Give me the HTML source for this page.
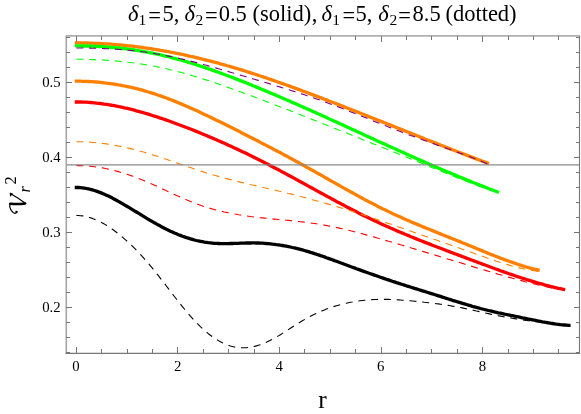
<!DOCTYPE html>
<html><head><meta charset="utf-8"><title>plot</title>
<style>html,body{margin:0;padding:0;background:#fff;}body{width:581px;height:414px;overflow:hidden;}svg{display:block;will-change:transform;transform:translateZ(0);}text{font-family:"Liberation Serif",serif;fill:#000;}</style></head><body>
<svg width="581" height="414" viewBox="0 0 581 414">
<rect x="0" y="0" width="581" height="414" fill="#ffffff"/>
<g fill="none" stroke-linejoin="round" stroke-linecap="butt">
<path d="M76.4 187.5 L78.4 187.5 L80.4 187.6 L82.4 187.8 L84.4 188.1 L86.4 188.5 L88.4 188.9 L90.4 189.3 L92.4 189.9 L94.4 190.5 L96.4 191.1 L98.4 191.9 L100.4 192.6 L102.4 193.4 L104.4 194.3 L106.4 195.2 L108.4 196.1 L110.4 197.1 L112.4 198.1 L114.4 199.2 L116.4 200.3 L118.4 201.4 L120.4 202.5 L122.4 203.6 L124.4 204.8 L126.4 206.0 L128.4 207.2 L130.4 208.4 L132.4 209.6 L134.4 210.8 L136.4 212.0 L138.4 213.2 L140.4 214.4 L142.4 215.7 L144.4 216.9 L146.4 218.1 L148.4 219.3 L150.4 220.5 L152.4 221.6 L154.4 222.8 L156.4 223.9 L158.4 225.1 L160.4 226.1 L162.4 227.2 L164.4 228.3 L166.4 229.3 L168.4 230.2 L170.4 231.2 L172.4 232.1 L174.4 233.0 L176.4 233.8 L178.4 234.7 L180.4 235.4 L182.4 236.2 L184.4 236.9 L186.4 237.6 L188.4 238.2 L190.4 238.8 L192.4 239.4 L194.4 240.0 L196.4 240.5 L198.4 240.9 L200.4 241.3 L202.4 241.7 L204.4 242.1 L206.4 242.4 L208.4 242.7 L210.4 242.9 L212.4 243.1 L214.4 243.3 L216.4 243.4 L218.4 243.5 L220.4 243.6 L222.4 243.6 L224.4 243.6 L226.4 243.6 L228.4 243.6 L230.4 243.5 L232.4 243.5 L234.4 243.4 L236.4 243.4 L238.4 243.3 L240.4 243.2 L242.4 243.1 L244.4 243.1 L246.4 243.0 L248.4 243.0 L250.4 243.0 L252.4 242.9 L254.4 242.9 L256.4 243.0 L258.4 243.0 L260.4 243.1 L262.4 243.2 L264.4 243.3 L266.4 243.5 L268.4 243.6 L270.4 243.8 L272.4 244.1 L274.4 244.3 L276.4 244.6 L278.4 244.8 L280.4 245.2 L282.4 245.5 L284.4 245.8 L286.4 246.2 L288.4 246.6 L290.4 247.0 L292.4 247.5 L294.4 247.9 L296.4 248.4 L298.4 248.9 L300.4 249.4 L302.4 249.9 L304.4 250.5 L306.4 251.1 L308.4 251.7 L310.4 252.3 L312.4 252.9 L314.4 253.6 L316.4 254.2 L318.4 254.9 L320.4 255.6 L322.4 256.2 L324.4 256.9 L326.4 257.7 L328.4 258.4 L330.4 259.1 L332.4 259.8 L334.4 260.6 L336.4 261.3 L338.4 262.0 L340.4 262.8 L342.4 263.5 L344.4 264.3 L346.4 265.0 L348.4 265.7 L350.4 266.5 L352.4 267.2 L354.4 267.9 L356.4 268.7 L358.4 269.4 L360.4 270.1 L362.4 270.9 L364.4 271.6 L366.4 272.3 L368.4 273.0 L370.4 273.7 L372.4 274.4 L374.4 275.1 L376.4 275.8 L378.4 276.5 L380.4 277.2 L382.4 277.9 L384.4 278.6 L386.4 279.3 L388.4 279.9 L390.4 280.6 L392.4 281.3 L394.4 281.9 L396.4 282.6 L398.4 283.2 L400.4 283.9 L402.4 284.5 L404.4 285.1 L406.4 285.8 L408.4 286.4 L410.4 287.0 L412.4 287.7 L414.4 288.3 L416.4 288.9 L418.4 289.5 L420.4 290.2 L422.4 290.8 L424.4 291.4 L426.4 292.0 L428.4 292.7 L430.4 293.3 L432.4 293.9 L434.4 294.5 L436.4 295.2 L438.4 295.8 L440.4 296.4 L442.4 297.1 L444.4 297.7 L446.4 298.4 L448.4 299.0 L450.4 299.6 L452.4 300.3 L454.4 300.9 L456.4 301.5 L458.4 302.1 L460.4 302.7 L462.4 303.3 L464.4 303.9 L466.4 304.5 L468.4 305.1 L470.4 305.7 L472.4 306.3 L474.4 306.8 L476.4 307.4 L478.4 307.9 L480.4 308.5 L482.4 309.0 L484.4 309.5 L486.4 310.0 L488.4 310.5 L490.4 310.9 L492.4 311.4 L494.4 311.9 L496.4 312.3 L498.4 312.8 L500.4 313.2 L502.4 313.6 L504.4 314.1 L506.4 314.5 L508.4 314.9 L510.4 315.3 L512.4 315.7 L514.4 316.1 L516.4 316.5 L518.4 316.9 L520.4 317.3 L522.4 317.8 L524.4 318.2 L526.4 318.6 L528.4 319.0 L530.4 319.4 L532.4 319.8 L534.4 320.2 L536.4 320.6 L538.4 321.0 L540.4 321.4 L542.4 321.8 L544.4 322.1 L546.4 322.5 L548.4 322.8 L550.4 323.2 L552.4 323.5 L554.4 323.8 L556.4 324.1 L558.4 324.3 L560.4 324.6 L562.4 324.8 L564.4 325.0 L566.4 325.2 L568.4 325.4 L568.9 325.4" stroke="#000000" stroke-width="3.3" stroke-linecap="square"/>
<path d="M76.4 102.0 L78.4 102.0 L80.4 102.0 L82.4 102.1 L84.4 102.2 L86.4 102.2 L88.4 102.4 L90.4 102.5 L92.4 102.7 L94.4 102.9 L96.4 103.1 L98.4 103.3 L100.4 103.5 L102.4 103.8 L104.4 104.1 L106.4 104.3 L108.4 104.7 L110.4 105.0 L112.4 105.3 L114.4 105.7 L116.4 106.1 L118.4 106.5 L120.4 106.9 L122.4 107.3 L124.4 107.8 L126.4 108.2 L128.4 108.7 L130.4 109.2 L132.4 109.7 L134.4 110.2 L136.4 110.8 L138.4 111.3 L140.4 111.9 L142.4 112.4 L144.4 113.0 L146.4 113.6 L148.4 114.2 L150.4 114.8 L152.4 115.5 L154.4 116.1 L156.4 116.7 L158.4 117.4 L160.4 118.1 L162.4 118.7 L164.4 119.4 L166.4 120.1 L168.4 120.8 L170.4 121.5 L172.4 122.3 L174.4 123.0 L176.4 123.7 L178.4 124.5 L180.4 125.2 L182.4 126.0 L184.4 126.7 L186.4 127.5 L188.4 128.3 L190.4 129.0 L192.4 129.8 L194.4 130.6 L196.4 131.4 L198.4 132.2 L200.4 133.0 L202.4 133.9 L204.4 134.7 L206.4 135.5 L208.4 136.4 L210.4 137.2 L212.4 138.1 L214.4 138.9 L216.4 139.8 L218.4 140.7 L220.4 141.6 L222.4 142.4 L224.4 143.3 L226.4 144.2 L228.4 145.2 L230.4 146.1 L232.4 147.0 L234.4 147.9 L236.4 148.8 L238.4 149.8 L240.4 150.7 L242.4 151.7 L244.4 152.6 L246.4 153.6 L248.4 154.6 L250.4 155.5 L252.4 156.5 L254.4 157.5 L256.4 158.5 L258.4 159.5 L260.4 160.5 L262.4 161.5 L264.4 162.5 L266.4 163.6 L268.4 164.6 L270.4 165.6 L272.4 166.7 L274.4 167.7 L276.4 168.8 L278.4 169.8 L280.4 170.9 L282.4 172.0 L284.4 173.0 L286.4 174.1 L288.4 175.2 L290.4 176.3 L292.4 177.3 L294.4 178.4 L296.4 179.5 L298.4 180.6 L300.4 181.7 L302.4 182.8 L304.4 183.9 L306.4 185.0 L308.4 186.1 L310.4 187.2 L312.4 188.3 L314.4 189.4 L316.4 190.5 L318.4 191.6 L320.4 192.7 L322.4 193.8 L324.4 194.9 L326.4 196.0 L328.4 197.1 L330.4 198.1 L332.4 199.2 L334.4 200.3 L336.4 201.4 L338.4 202.4 L340.4 203.5 L342.4 204.6 L344.4 205.6 L346.4 206.7 L348.4 207.7 L350.4 208.8 L352.4 209.8 L354.4 210.8 L356.4 211.8 L358.4 212.9 L360.4 213.9 L362.4 214.9 L364.4 215.9 L366.4 216.8 L368.4 217.8 L370.4 218.8 L372.4 219.7 L374.4 220.7 L376.4 221.6 L378.4 222.6 L380.4 223.5 L382.4 224.4 L384.4 225.3 L386.4 226.2 L388.4 227.1 L390.4 228.0 L392.4 228.8 L394.4 229.7 L396.4 230.6 L398.4 231.4 L400.4 232.3 L402.4 233.1 L404.4 234.0 L406.4 234.8 L408.4 235.6 L410.4 236.5 L412.4 237.3 L414.4 238.1 L416.4 238.9 L418.4 239.7 L420.4 240.5 L422.4 241.3 L424.4 242.1 L426.4 242.9 L428.4 243.6 L430.4 244.4 L432.4 245.2 L434.4 246.0 L436.4 246.7 L438.4 247.5 L440.4 248.3 L442.4 249.0 L444.4 249.8 L446.4 250.6 L448.4 251.3 L450.4 252.1 L452.4 252.8 L454.4 253.6 L456.4 254.3 L458.4 255.1 L460.4 255.8 L462.4 256.6 L464.4 257.3 L466.4 258.1 L468.4 258.8 L470.4 259.6 L472.4 260.3 L474.4 261.1 L476.4 261.8 L478.4 262.6 L480.4 263.3 L482.4 264.1 L484.4 264.8 L486.4 265.5 L488.4 266.3 L490.4 267.0 L492.4 267.8 L494.4 268.5 L496.4 269.2 L498.4 269.9 L500.4 270.7 L502.4 271.4 L504.4 272.1 L506.4 272.8 L508.4 273.5 L510.4 274.2 L512.4 274.8 L514.4 275.5 L516.4 276.2 L518.4 276.9 L520.4 277.5 L522.4 278.2 L524.4 278.8 L526.4 279.5 L528.4 280.1 L530.4 280.7 L532.4 281.3 L534.4 281.9 L536.4 282.5 L538.4 283.1 L540.4 283.6 L542.4 284.2 L544.4 284.8 L546.4 285.3 L548.4 285.8 L550.4 286.3 L552.4 286.8 L554.4 287.3 L556.4 287.8 L558.4 288.3 L560.4 288.7 L562.4 289.2 L563.6 289.4" stroke="#ff0000" stroke-width="3.3" stroke-linecap="square"/>
<path d="M76.4 81.2 L78.4 81.2 L80.4 81.2 L82.4 81.3 L84.4 81.3 L86.4 81.4 L88.4 81.5 L90.4 81.6 L92.4 81.7 L94.4 81.9 L96.4 82.0 L98.4 82.2 L100.4 82.4 L102.4 82.6 L104.4 82.8 L106.4 83.1 L108.4 83.3 L110.4 83.6 L112.4 83.9 L114.4 84.2 L116.4 84.5 L118.4 84.9 L120.4 85.2 L122.4 85.6 L124.4 86.0 L126.4 86.4 L128.4 86.8 L130.4 87.2 L132.4 87.7 L134.4 88.2 L136.4 88.7 L138.4 89.2 L140.4 89.7 L142.4 90.2 L144.4 90.8 L146.4 91.4 L148.4 92.0 L150.4 92.6 L152.4 93.2 L154.4 93.8 L156.4 94.5 L158.4 95.2 L160.4 95.9 L162.4 96.6 L164.4 97.3 L166.4 98.0 L168.4 98.8 L170.4 99.6 L172.4 100.3 L174.4 101.1 L176.4 101.9 L178.4 102.8 L180.4 103.6 L182.4 104.4 L184.4 105.3 L186.4 106.2 L188.4 107.0 L190.4 107.9 L192.4 108.8 L194.4 109.7 L196.4 110.6 L198.4 111.5 L200.4 112.5 L202.4 113.4 L204.4 114.4 L206.4 115.3 L208.4 116.3 L210.4 117.2 L212.4 118.2 L214.4 119.2 L216.4 120.2 L218.4 121.1 L220.4 122.1 L222.4 123.1 L224.4 124.1 L226.4 125.1 L228.4 126.1 L230.4 127.1 L232.4 128.1 L234.4 129.1 L236.4 130.1 L238.4 131.1 L240.4 132.1 L242.4 133.2 L244.4 134.2 L246.4 135.2 L248.4 136.2 L250.4 137.2 L252.4 138.3 L254.4 139.3 L256.4 140.3 L258.4 141.3 L260.4 142.4 L262.4 143.4 L264.4 144.4 L266.4 145.5 L268.4 146.5 L270.4 147.6 L272.4 148.6 L274.4 149.7 L276.4 150.7 L278.4 151.8 L280.4 152.8 L282.4 153.9 L284.4 155.0 L286.4 156.0 L288.4 157.1 L290.4 158.2 L292.4 159.3 L294.4 160.4 L296.4 161.5 L298.4 162.5 L300.4 163.6 L302.4 164.7 L304.4 165.8 L306.4 167.0 L308.4 168.1 L310.4 169.2 L312.4 170.3 L314.4 171.4 L316.4 172.6 L318.4 173.7 L320.4 174.8 L322.4 175.9 L324.4 177.1 L326.4 178.2 L328.4 179.3 L330.4 180.5 L332.4 181.6 L334.4 182.7 L336.4 183.9 L338.4 185.0 L340.4 186.1 L342.4 187.3 L344.4 188.4 L346.4 189.5 L348.4 190.6 L350.4 191.7 L352.4 192.8 L354.4 193.9 L356.4 195.0 L358.4 196.1 L360.4 197.2 L362.4 198.3 L364.4 199.4 L366.4 200.4 L368.4 201.5 L370.4 202.6 L372.4 203.6 L374.4 204.6 L376.4 205.6 L378.4 206.7 L380.4 207.7 L382.4 208.7 L384.4 209.6 L386.4 210.6 L388.4 211.6 L390.4 212.5 L392.4 213.5 L394.4 214.4 L396.4 215.3 L398.4 216.2 L400.4 217.1 L402.4 218.0 L404.4 218.9 L406.4 219.8 L408.4 220.6 L410.4 221.5 L412.4 222.4 L414.4 223.2 L416.4 224.1 L418.4 224.9 L420.4 225.7 L422.4 226.6 L424.4 227.4 L426.4 228.2 L428.4 229.0 L430.4 229.8 L432.4 230.6 L434.4 231.4 L436.4 232.2 L438.4 233.1 L440.4 233.9 L442.4 234.7 L444.4 235.5 L446.4 236.3 L448.4 237.1 L450.4 237.9 L452.4 238.7 L454.4 239.5 L456.4 240.3 L458.4 241.1 L460.4 241.9 L462.4 242.7 L464.4 243.5 L466.4 244.3 L468.4 245.2 L470.4 246.0 L472.4 246.8 L474.4 247.6 L476.4 248.5 L478.4 249.3 L480.4 250.1 L482.4 250.9 L484.4 251.7 L486.4 252.5 L488.4 253.4 L490.4 254.2 L492.4 254.9 L494.4 255.7 L496.4 256.5 L498.4 257.3 L500.4 258.1 L502.4 258.8 L504.4 259.6 L506.4 260.3 L508.4 261.0 L510.4 261.7 L512.4 262.4 L514.4 263.1 L516.4 263.8 L518.4 264.5 L520.4 265.1 L522.4 265.8 L524.4 266.4 L526.4 267.0 L528.4 267.6 L530.4 268.1 L532.4 268.7 L534.4 269.2 L536.4 269.7 L538.1 270.1" stroke="#ff8000" stroke-width="3.3" stroke-linecap="square"/>
<path d="M76.4 42.9 L78.4 42.9 L80.4 42.9 L82.4 43.0 L84.4 43.0 L86.4 43.0 L88.4 43.1 L90.4 43.1 L92.4 43.2 L94.4 43.3 L96.4 43.3 L98.4 43.4 L100.4 43.5 L102.4 43.6 L104.4 43.8 L106.4 43.9 L108.4 44.0 L110.4 44.1 L112.4 44.3 L114.4 44.5 L116.4 44.6 L118.4 44.8 L120.4 45.0 L122.4 45.2 L124.4 45.4 L126.4 45.6 L128.4 45.8 L130.4 46.0 L132.4 46.2 L134.4 46.5 L136.4 46.7 L138.4 47.0 L140.4 47.2 L142.4 47.5 L144.4 47.8 L146.4 48.1 L148.4 48.4 L150.4 48.7 L152.4 49.0 L154.4 49.3 L156.4 49.6 L158.4 49.9 L160.4 50.3 L162.4 50.6 L164.4 51.0 L166.4 51.3 L168.4 51.7 L170.4 52.1 L172.4 52.5 L174.4 52.9 L176.4 53.3 L178.4 53.7 L180.4 54.1 L182.4 54.5 L184.4 54.9 L186.4 55.4 L188.4 55.8 L190.4 56.3 L192.4 56.7 L194.4 57.2 L196.4 57.6 L198.4 58.1 L200.4 58.6 L202.4 59.1 L204.4 59.6 L206.4 60.1 L208.4 60.6 L210.4 61.1 L212.4 61.6 L214.4 62.2 L216.4 62.7 L218.4 63.2 L220.4 63.8 L222.4 64.3 L224.4 64.9 L226.4 65.5 L228.4 66.0 L230.4 66.6 L232.4 67.2 L234.4 67.8 L236.4 68.4 L238.4 69.0 L240.4 69.6 L242.4 70.2 L244.4 70.8 L246.4 71.5 L248.4 72.1 L250.4 72.7 L252.4 73.4 L254.4 74.0 L256.4 74.7 L258.4 75.3 L260.4 76.0 L262.4 76.7 L264.4 77.3 L266.4 78.0 L268.4 78.7 L270.4 79.4 L272.4 80.1 L274.4 80.8 L276.4 81.5 L278.4 82.2 L280.4 82.9 L282.4 83.6 L284.4 84.3 L286.4 85.0 L288.4 85.7 L290.4 86.4 L292.4 87.2 L294.4 87.9 L296.4 88.6 L298.4 89.4 L300.4 90.1 L302.4 90.9 L304.4 91.6 L306.4 92.3 L308.4 93.1 L310.4 93.9 L312.4 94.6 L314.4 95.4 L316.4 96.1 L318.4 96.9 L320.4 97.6 L322.4 98.4 L324.4 99.2 L326.4 99.9 L328.4 100.7 L330.4 101.5 L332.4 102.3 L334.4 103.0 L336.4 103.8 L338.4 104.6 L340.4 105.4 L342.4 106.1 L344.4 106.9 L346.4 107.7 L348.4 108.5 L350.4 109.3 L352.4 110.1 L354.4 110.8 L356.4 111.6 L358.4 112.4 L360.4 113.2 L362.4 114.0 L364.4 114.8 L366.4 115.6 L368.4 116.4 L370.4 117.2 L372.4 118.0 L374.4 118.8 L376.4 119.6 L378.4 120.4 L380.4 121.1 L382.4 121.9 L384.4 122.7 L386.4 123.5 L388.4 124.3 L390.4 125.1 L392.4 125.9 L394.4 126.7 L396.4 127.5 L398.4 128.3 L400.4 129.1 L402.4 129.9 L404.4 130.7 L406.4 131.5 L408.4 132.3 L410.4 133.1 L412.4 133.9 L414.4 134.7 L416.4 135.5 L418.4 136.3 L420.4 137.1 L422.4 137.9 L424.4 138.7 L426.4 139.5 L428.4 140.3 L430.4 141.1 L432.4 141.9 L434.4 142.6 L436.4 143.4 L438.4 144.2 L440.4 145.0 L442.4 145.8 L444.4 146.6 L446.4 147.4 L448.4 148.1 L450.4 148.9 L452.4 149.7 L454.4 150.5 L456.4 151.3 L458.4 152.0 L460.4 152.8 L462.4 153.6 L464.4 154.3 L466.4 155.1 L468.4 155.9 L470.4 156.6 L472.4 157.4 L474.4 158.1 L476.4 158.9 L478.4 159.7 L480.4 160.4 L482.4 161.2 L484.4 161.9 L486.4 162.6 L487.4 163.0" stroke="#ff8000" stroke-width="3.3" stroke-linecap="square"/>
<path d="M76.4 45.9 L78.4 45.9 L80.4 45.9 L82.4 46.0 L84.4 46.0 L86.4 46.0 L88.4 46.1 L90.4 46.1 L92.4 46.2 L94.4 46.3 L96.4 46.4 L98.4 46.5 L100.4 46.6 L102.4 46.7 L104.4 46.8 L106.4 47.0 L108.4 47.1 L110.4 47.3 L112.4 47.5 L114.4 47.6 L116.4 47.8 L118.4 48.0 L120.4 48.2 L122.4 48.5 L124.4 48.7 L126.4 48.9 L128.4 49.2 L130.4 49.5 L132.4 49.7 L134.4 50.0 L136.4 50.3 L138.4 50.6 L140.4 51.0 L142.4 51.3 L144.4 51.6 L146.4 52.0 L148.4 52.4 L150.4 52.8 L152.4 53.2 L154.4 53.6 L156.4 54.0 L158.4 54.4 L160.4 54.9 L162.4 55.3 L164.4 55.8 L166.4 56.3 L168.4 56.7 L170.4 57.2 L172.4 57.8 L174.4 58.3 L176.4 58.8 L178.4 59.4 L180.4 59.9 L182.4 60.5 L184.4 61.1 L186.4 61.7 L188.4 62.3 L190.4 62.9 L192.4 63.5 L194.4 64.1 L196.4 64.8 L198.4 65.4 L200.4 66.1 L202.4 66.7 L204.4 67.4 L206.4 68.1 L208.4 68.8 L210.4 69.4 L212.4 70.1 L214.4 70.9 L216.4 71.6 L218.4 72.3 L220.4 73.0 L222.4 73.8 L224.4 74.5 L226.4 75.3 L228.4 76.0 L230.4 76.8 L232.4 77.5 L234.4 78.3 L236.4 79.1 L238.4 79.9 L240.4 80.6 L242.4 81.4 L244.4 82.2 L246.4 83.0 L248.4 83.8 L250.4 84.6 L252.4 85.5 L254.4 86.3 L256.4 87.1 L258.4 87.9 L260.4 88.7 L262.4 89.6 L264.4 90.4 L266.4 91.2 L268.4 92.1 L270.4 92.9 L272.4 93.8 L274.4 94.6 L276.4 95.5 L278.4 96.3 L280.4 97.2 L282.4 98.0 L284.4 98.9 L286.4 99.8 L288.4 100.6 L290.4 101.5 L292.4 102.4 L294.4 103.3 L296.4 104.1 L298.4 105.0 L300.4 105.9 L302.4 106.8 L304.4 107.7 L306.4 108.6 L308.4 109.4 L310.4 110.3 L312.4 111.2 L314.4 112.1 L316.4 113.0 L318.4 113.9 L320.4 114.8 L322.4 115.7 L324.4 116.6 L326.4 117.6 L328.4 118.5 L330.4 119.4 L332.4 120.3 L334.4 121.2 L336.4 122.1 L338.4 123.0 L340.4 123.9 L342.4 124.8 L344.4 125.8 L346.4 126.7 L348.4 127.6 L350.4 128.5 L352.4 129.4 L354.4 130.3 L356.4 131.3 L358.4 132.2 L360.4 133.1 L362.4 134.0 L364.4 134.9 L366.4 135.9 L368.4 136.8 L370.4 137.7 L372.4 138.6 L374.4 139.5 L376.4 140.4 L378.4 141.4 L380.4 142.3 L382.4 143.2 L384.4 144.1 L386.4 145.0 L388.4 145.9 L390.4 146.8 L392.4 147.7 L394.4 148.6 L396.4 149.5 L398.4 150.4 L400.4 151.3 L402.4 152.2 L404.4 153.1 L406.4 154.0 L408.4 154.9 L410.4 155.8 L412.4 156.7 L414.4 157.6 L416.4 158.5 L418.4 159.4 L420.4 160.2 L422.4 161.1 L424.4 162.0 L426.4 162.9 L428.4 163.7 L430.4 164.6 L432.4 165.5 L434.4 166.3 L436.4 167.2 L438.4 168.1 L440.4 168.9 L442.4 169.8 L444.4 170.6 L446.4 171.5 L448.4 172.3 L450.4 173.1 L452.4 174.0 L454.4 174.8 L456.4 175.6 L458.4 176.5 L460.4 177.3 L462.4 178.1 L464.4 178.9 L466.4 179.8 L468.4 180.6 L470.4 181.4 L472.4 182.2 L474.4 183.0 L476.4 183.8 L478.4 184.6 L480.4 185.4 L482.4 186.1 L484.4 186.9 L486.4 187.7 L488.4 188.5 L490.4 189.2 L492.4 190.0 L494.4 190.8 L496.4 191.5 L497.4 191.9" stroke="#00ff00" stroke-width="3.3" stroke-linecap="square"/>
<path d="M76.4 215.5 L78.4 215.5 L80.4 215.7 L82.4 215.9 L84.4 216.2 L86.4 216.6 L88.4 217.2 L90.4 217.8 L92.4 218.4 L94.4 219.2 L96.4 220.0 L98.4 221.0 L100.4 221.9 L102.4 223.0 L104.4 224.1 L106.4 225.3 L108.4 226.6 L110.4 227.9 L112.4 229.3 L114.4 230.8 L116.4 232.3 L118.4 233.8 L120.4 235.4 L122.4 237.1 L124.4 238.8 L126.4 240.6 L128.4 242.4 L130.4 244.3 L132.4 246.2 L134.4 248.2 L136.4 250.2 L138.4 252.3 L140.4 254.4 L142.4 256.6 L144.4 258.9 L146.4 261.1 L148.4 263.4 L150.4 265.8 L152.4 268.2 L154.4 270.7 L156.4 273.2 L158.4 275.7 L160.4 278.3 L162.4 280.8 L164.4 283.4 L166.4 286.0 L168.4 288.6 L170.4 291.3 L172.4 293.9 L174.4 296.5 L176.4 299.0 L178.4 301.6 L180.4 304.1 L182.4 306.6 L184.4 309.0 L186.4 311.5 L188.4 313.8 L190.4 316.1 L192.4 318.3 L194.4 320.5 L196.4 322.6 L198.4 324.6 L200.4 326.6 L202.4 328.5 L204.4 330.3 L206.4 332.0 L208.4 333.7 L210.4 335.2 L212.4 336.7 L214.4 338.1 L216.4 339.4 L218.4 340.6 L220.4 341.8 L222.4 342.8 L224.4 343.7 L226.4 344.6 L228.4 345.3 L230.4 346.0 L232.4 346.5 L234.4 347.0 L236.4 347.3 L238.4 347.6 L240.4 347.7 L242.4 347.8 L244.4 347.8 L246.4 347.7 L248.4 347.5 L250.4 347.2 L252.4 346.8 L254.4 346.4 L256.4 345.9 L258.4 345.3 L260.4 344.7 L262.4 343.9 L264.4 343.1 L266.4 342.3 L268.4 341.3 L270.4 340.3 L272.4 339.3 L274.4 338.2 L276.4 337.1 L278.4 335.9 L280.4 334.7 L282.4 333.4 L284.4 332.2 L286.4 330.9 L288.4 329.6 L290.4 328.3 L292.4 327.0 L294.4 325.8 L296.4 324.5 L298.4 323.2 L300.4 322.0 L302.4 320.8 L304.4 319.6 L306.4 318.5 L308.4 317.4 L310.4 316.3 L312.4 315.3 L314.4 314.3 L316.4 313.4 L318.4 312.5 L320.4 311.6 L322.4 310.7 L324.4 309.9 L326.4 309.1 L328.4 308.4 L330.4 307.7 L332.4 307.0 L334.4 306.4 L336.4 305.8 L338.4 305.2 L340.4 304.6 L342.4 304.1 L344.4 303.6 L346.4 303.2 L348.4 302.7 L350.4 302.3 L352.4 302.0 L354.4 301.6 L356.4 301.3 L358.4 301.0 L360.4 300.7 L362.4 300.5 L364.4 300.3 L366.4 300.1 L368.4 299.9 L370.4 299.8 L372.4 299.6 L374.4 299.5 L376.4 299.5 L378.4 299.4 L380.4 299.4 L382.4 299.4 L384.4 299.4 L386.4 299.4 L388.4 299.4 L390.4 299.5 L392.4 299.6 L394.4 299.7 L396.4 299.8 L398.4 299.9 L400.4 300.0 L402.4 300.2 L404.4 300.3 L406.4 300.5 L408.4 300.7 L410.4 300.8 L412.4 301.0 L414.4 301.2 L416.4 301.4 L418.4 301.6 L420.4 301.8 L422.4 302.0 L424.4 302.3 L426.4 302.5 L428.4 302.7 L430.4 302.9 L432.4 303.2 L434.4 303.4 L436.4 303.7 L438.4 303.9 L440.4 304.2 L442.4 304.5 L444.4 304.8 L446.4 305.1 L448.4 305.4 L450.4 305.7 L452.4 306.1 L454.4 306.4 L456.4 306.8 L458.4 307.2 L460.4 307.5 L462.4 307.9 L464.4 308.4 L466.4 308.8 L468.4 309.2 L470.4 309.6 L472.4 310.1 L474.4 310.5 L476.4 311.0 L478.4 311.4 L480.4 311.9 L482.4 312.3 L484.4 312.8 L486.4 313.2 L488.4 313.6 L490.4 314.1 L492.4 314.5 L494.4 314.9 L496.4 315.3 L498.4 315.7 L500.4 316.1 L502.4 316.5 L504.4 316.9 L506.4 317.2 L508.4 317.6 L510.4 317.9 L512.4 318.3 L514.4 318.6 L516.4 318.9 L518.4 319.2 L520.4 319.5 L522.4 319.8 L524.4 320.1 L526.4 320.4 L528.4 320.7 L530.4 321.0 L532.4 321.2 L534.4 321.5 L536.4 321.8 L538.4 322.0 L540.4 322.3 L542.4 322.5 L544.4 322.7 L546.4 323.0 L548.4 323.2 L550.4 323.5 L552.4 323.7 L554.4 323.9 L556.4 324.2 L558.4 324.4 L560.4 324.7 L562.4 324.9 L564.4 325.2 L566.4 325.4 L568.4 325.7 L570.4 326.0 L570.5 326.0" stroke="#000000" stroke-width="1.1" stroke-dasharray="7 5.8"/>
<path d="M76.4 165.5 L78.4 165.6 L80.4 165.6 L82.4 165.7 L84.4 165.8 L86.4 165.9 L88.4 166.1 L90.4 166.3 L92.4 166.5 L94.4 166.7 L96.4 167.0 L98.4 167.3 L100.4 167.6 L102.4 167.9 L104.4 168.3 L106.4 168.7 L108.4 169.1 L110.4 169.6 L112.4 170.0 L114.4 170.5 L116.4 171.1 L118.4 171.6 L120.4 172.2 L122.4 172.8 L124.4 173.4 L126.4 174.0 L128.4 174.7 L130.4 175.4 L132.4 176.1 L134.4 176.8 L136.4 177.6 L138.4 178.4 L140.4 179.2 L142.4 180.0 L144.4 180.8 L146.4 181.7 L148.4 182.5 L150.4 183.4 L152.4 184.3 L154.4 185.2 L156.4 186.1 L158.4 187.1 L160.4 188.0 L162.4 188.9 L164.4 189.8 L166.4 190.8 L168.4 191.7 L170.4 192.6 L172.4 193.6 L174.4 194.5 L176.4 195.4 L178.4 196.3 L180.4 197.2 L182.4 198.1 L184.4 198.9 L186.4 199.8 L188.4 200.6 L190.4 201.5 L192.4 202.3 L194.4 203.0 L196.4 203.8 L198.4 204.5 L200.4 205.2 L202.4 205.9 L204.4 206.6 L206.4 207.2 L208.4 207.8 L210.4 208.4 L212.4 209.0 L214.4 209.6 L216.4 210.1 L218.4 210.6 L220.4 211.1 L222.4 211.5 L224.4 212.0 L226.4 212.4 L228.4 212.8 L230.4 213.2 L232.4 213.6 L234.4 214.0 L236.4 214.3 L238.4 214.7 L240.4 215.0 L242.4 215.3 L244.4 215.6 L246.4 215.9 L248.4 216.2 L250.4 216.5 L252.4 216.7 L254.4 217.0 L256.4 217.2 L258.4 217.4 L260.4 217.7 L262.4 217.9 L264.4 218.1 L266.4 218.3 L268.4 218.5 L270.4 218.7 L272.4 218.9 L274.4 219.1 L276.4 219.3 L278.4 219.5 L280.4 219.7 L282.4 219.9 L284.4 220.1 L286.4 220.2 L288.4 220.4 L290.4 220.6 L292.4 220.8 L294.4 221.1 L296.4 221.3 L298.4 221.5 L300.4 221.7 L302.4 221.9 L304.4 222.2 L306.4 222.4 L308.4 222.7 L310.4 222.9 L312.4 223.2 L314.4 223.5 L316.4 223.8 L318.4 224.1 L320.4 224.4 L322.4 224.8 L324.4 225.1 L326.4 225.5 L328.4 225.9 L330.4 226.2 L332.4 226.6 L334.4 227.1 L336.4 227.5 L338.4 227.9 L340.4 228.4 L342.4 228.8 L344.4 229.3 L346.4 229.7 L348.4 230.2 L350.4 230.7 L352.4 231.2 L354.4 231.7 L356.4 232.2 L358.4 232.8 L360.4 233.3 L362.4 233.8 L364.4 234.4 L366.4 234.9 L368.4 235.5 L370.4 236.0 L372.4 236.6 L374.4 237.1 L376.4 237.7 L378.4 238.3 L380.4 238.8 L382.4 239.4 L384.4 240.0 L386.4 240.6 L388.4 241.2 L390.4 241.7 L392.4 242.3 L394.4 242.9 L396.4 243.5 L398.4 244.1 L400.4 244.7 L402.4 245.3 L404.4 245.9 L406.4 246.5 L408.4 247.1 L410.4 247.7 L412.4 248.3 L414.4 248.9 L416.4 249.5 L418.4 250.1 L420.4 250.7 L422.4 251.3 L424.4 251.9 L426.4 252.5 L428.4 253.1 L430.4 253.7 L432.4 254.3 L434.4 254.9 L436.4 255.5 L438.4 256.1 L440.4 256.8 L442.4 257.4 L444.4 258.0 L446.4 258.6 L448.4 259.2 L450.4 259.8 L452.4 260.4 L454.4 261.0 L456.4 261.6 L458.4 262.2 L460.4 262.8 L462.4 263.4 L464.4 264.0 L466.4 264.6 L468.4 265.3 L470.4 265.9 L472.4 266.5 L474.4 267.1 L476.4 267.7 L478.4 268.3 L480.4 268.9 L482.4 269.4 L484.4 270.0 L486.4 270.6 L488.4 271.2 L490.4 271.8 L492.4 272.4 L494.4 273.0 L496.4 273.6 L498.4 274.2 L500.4 274.7 L502.4 275.3 L504.4 275.9 L506.4 276.5 L508.4 277.1 L510.4 277.6 L512.4 278.2 L514.4 278.8 L516.4 279.3 L518.4 279.9 L520.4 280.4 L522.4 280.9 L524.4 281.5 L526.4 282.0 L528.4 282.5 L530.4 283.0 L532.4 283.5 L534.4 284.0 L536.4 284.5 L538.4 285.0 L540.4 285.5 L542.4 285.9 L544.4 286.4 L546.4 286.8 L548.4 287.2 L550.4 287.6 L552.4 288.0 L554.4 288.4 L556.4 288.8 L558.4 289.1 L560.4 289.5 L562.4 289.8 L564.4 290.1 L565.2 290.2" stroke="#ff0000" stroke-width="1.1" stroke-dasharray="7 5.8"/>
<path d="M76.4 141.7 L78.4 141.7 L80.4 141.7 L82.4 141.8 L84.4 141.9 L86.4 142.0 L88.4 142.1 L90.4 142.2 L92.4 142.4 L94.4 142.5 L96.4 142.7 L98.4 142.9 L100.4 143.1 L102.4 143.4 L104.4 143.6 L106.4 143.9 L108.4 144.2 L110.4 144.5 L112.4 144.9 L114.4 145.2 L116.4 145.6 L118.4 146.0 L120.4 146.4 L122.4 146.8 L124.4 147.2 L126.4 147.6 L128.4 148.1 L130.4 148.6 L132.4 149.1 L134.4 149.6 L136.4 150.1 L138.4 150.6 L140.4 151.2 L142.4 151.7 L144.4 152.3 L146.4 152.9 L148.4 153.5 L150.4 154.1 L152.4 154.7 L154.4 155.4 L156.4 156.0 L158.4 156.7 L160.4 157.3 L162.4 158.0 L164.4 158.7 L166.4 159.3 L168.4 160.0 L170.4 160.7 L172.4 161.4 L174.4 162.1 L176.4 162.8 L178.4 163.5 L180.4 164.2 L182.4 164.9 L184.4 165.6 L186.4 166.2 L188.4 166.9 L190.4 167.6 L192.4 168.3 L194.4 169.0 L196.4 169.6 L198.4 170.3 L200.4 171.0 L202.4 171.6 L204.4 172.2 L206.4 172.9 L208.4 173.5 L210.4 174.1 L212.4 174.7 L214.4 175.3 L216.4 175.8 L218.4 176.4 L220.4 177.0 L222.4 177.5 L224.4 178.1 L226.4 178.6 L228.4 179.1 L230.4 179.6 L232.4 180.1 L234.4 180.6 L236.4 181.1 L238.4 181.6 L240.4 182.1 L242.4 182.6 L244.4 183.1 L246.4 183.6 L248.4 184.0 L250.4 184.5 L252.4 185.0 L254.4 185.4 L256.4 185.9 L258.4 186.4 L260.4 186.8 L262.4 187.3 L264.4 187.7 L266.4 188.2 L268.4 188.7 L270.4 189.1 L272.4 189.6 L274.4 190.1 L276.4 190.5 L278.4 191.0 L280.4 191.5 L282.4 192.0 L284.4 192.5 L286.4 193.0 L288.4 193.5 L290.4 193.9 L292.4 194.4 L294.4 195.0 L296.4 195.5 L298.4 196.0 L300.4 196.5 L302.4 197.0 L304.4 197.5 L306.4 198.1 L308.4 198.6 L310.4 199.1 L312.4 199.7 L314.4 200.2 L316.4 200.7 L318.4 201.3 L320.4 201.9 L322.4 202.4 L324.4 203.0 L326.4 203.6 L328.4 204.1 L330.4 204.7 L332.4 205.3 L334.4 205.9 L336.4 206.5 L338.4 207.1 L340.4 207.7 L342.4 208.3 L344.4 208.9 L346.4 209.5 L348.4 210.1 L350.4 210.8 L352.4 211.4 L354.4 212.1 L356.4 212.7 L358.4 213.3 L360.4 214.0 L362.4 214.6 L364.4 215.3 L366.4 216.0 L368.4 216.6 L370.4 217.3 L372.4 218.0 L374.4 218.6 L376.4 219.3 L378.4 220.0 L380.4 220.7 L382.4 221.4 L384.4 222.0 L386.4 222.7 L388.4 223.4 L390.4 224.1 L392.4 224.8 L394.4 225.5 L396.4 226.2 L398.4 226.9 L400.4 227.6 L402.4 228.3 L404.4 228.9 L406.4 229.6 L408.4 230.3 L410.4 231.0 L412.4 231.7 L414.4 232.4 L416.4 233.1 L418.4 233.8 L420.4 234.5 L422.4 235.2 L424.4 235.9 L426.4 236.6 L428.4 237.3 L430.4 238.0 L432.4 238.7 L434.4 239.4 L436.4 240.1 L438.4 240.8 L440.4 241.5 L442.4 242.2 L444.4 242.9 L446.4 243.6 L448.4 244.3 L450.4 245.0 L452.4 245.7 L454.4 246.4 L456.4 247.1 L458.4 247.8 L460.4 248.5 L462.4 249.2 L464.4 249.9 L466.4 250.6 L468.4 251.3 L470.4 252.0 L472.4 252.7 L474.4 253.5 L476.4 254.2 L478.4 254.9 L480.4 255.6 L482.4 256.3 L484.4 257.0 L486.4 257.7 L488.4 258.4 L490.4 259.1 L492.4 259.8 L494.4 260.5 L496.4 261.2 L498.4 261.8 L500.4 262.5 L502.4 263.1 L504.4 263.7 L506.4 264.3 L508.4 264.9 L510.4 265.5 L512.4 266.1 L514.4 266.6 L516.4 267.1 L518.4 267.6 L520.4 268.1 L522.4 268.6 L524.4 269.0 L526.4 269.4 L528.4 269.8 L530.4 270.2 L532.4 270.5 L534.4 270.8 L536.4 271.1 L538.4 271.4 L539.8 271.5" stroke="#ff8000" stroke-width="1.1" stroke-dasharray="7 5.8"/>
<path d="M76.4 59.3 L78.4 59.3 L80.4 59.3 L82.4 59.3 L84.4 59.4 L86.4 59.4 L88.4 59.5 L90.4 59.5 L92.4 59.6 L94.4 59.6 L96.4 59.7 L98.4 59.8 L100.4 59.9 L102.4 60.0 L104.4 60.1 L106.4 60.3 L108.4 60.4 L110.4 60.5 L112.4 60.7 L114.4 60.8 L116.4 61.0 L118.4 61.2 L120.4 61.4 L122.4 61.6 L124.4 61.8 L126.4 62.0 L128.4 62.3 L130.4 62.5 L132.4 62.8 L134.4 63.0 L136.4 63.3 L138.4 63.6 L140.4 63.9 L142.4 64.2 L144.4 64.5 L146.4 64.9 L148.4 65.2 L150.4 65.6 L152.4 65.9 L154.4 66.3 L156.4 66.7 L158.4 67.1 L160.4 67.5 L162.4 67.9 L164.4 68.4 L166.4 68.8 L168.4 69.3 L170.4 69.8 L172.4 70.3 L174.4 70.8 L176.4 71.3 L178.4 71.8 L180.4 72.3 L182.4 72.8 L184.4 73.4 L186.4 73.9 L188.4 74.5 L190.4 75.1 L192.4 75.7 L194.4 76.3 L196.4 76.9 L198.4 77.5 L200.4 78.1 L202.4 78.7 L204.4 79.4 L206.4 80.0 L208.4 80.6 L210.4 81.3 L212.4 82.0 L214.4 82.6 L216.4 83.3 L218.4 84.0 L220.4 84.7 L222.4 85.4 L224.4 86.1 L226.4 86.8 L228.4 87.5 L230.4 88.2 L232.4 88.9 L234.4 89.6 L236.4 90.3 L238.4 91.1 L240.4 91.8 L242.4 92.5 L244.4 93.3 L246.4 94.0 L248.4 94.7 L250.4 95.5 L252.4 96.2 L254.4 97.0 L256.4 97.7 L258.4 98.5 L260.4 99.2 L262.4 100.0 L264.4 100.8 L266.4 101.5 L268.4 102.3 L270.4 103.1 L272.4 103.8 L274.4 104.6 L276.4 105.4 L278.4 106.2 L280.4 106.9 L282.4 107.7 L284.4 108.5 L286.4 109.3 L288.4 110.0 L290.4 110.8 L292.4 111.6 L294.4 112.4 L296.4 113.2 L298.4 114.0 L300.4 114.8 L302.4 115.6 L304.4 116.3 L306.4 117.1 L308.4 117.9 L310.4 118.7 L312.4 119.5 L314.4 120.3 L316.4 121.1 L318.4 121.9 L320.4 122.7 L322.4 123.5 L324.4 124.3 L326.4 125.1 L328.4 125.9 L330.4 126.7 L332.4 127.5 L334.4 128.3 L336.4 129.1 L338.4 129.9 L340.4 130.6 L342.4 131.4 L344.4 132.2 L346.4 133.0 L348.4 133.8 L350.4 134.6 L352.4 135.4 L354.4 136.2 L356.4 137.0 L358.4 137.8 L360.4 138.6 L362.4 139.4 L364.4 140.2 L366.4 141.0 L368.4 141.8 L370.4 142.6 L372.4 143.4 L374.4 144.2 L376.4 145.0 L378.4 145.8 L380.4 146.6 L382.4 147.4 L384.4 148.2 L386.4 149.0 L388.4 149.8 L390.4 150.6 L392.4 151.4 L394.4 152.2 L396.4 153.1 L398.4 153.9 L400.4 154.7 L402.4 155.5 L404.4 156.3 L406.4 157.1 L408.4 157.9 L410.4 158.7 L412.4 159.6 L414.4 160.4 L416.4 161.2 L418.4 162.0 L420.4 162.8 L422.4 163.6 L424.4 164.5 L426.4 165.3 L428.4 166.1 L430.4 166.9 L432.4 167.7 L434.4 168.6 L436.4 169.4 L438.4 170.2 L440.4 171.0 L442.4 171.8 L444.4 172.6 L446.4 173.4 L448.4 174.2 L450.4 175.0 L452.4 175.8 L454.4 176.6 L456.4 177.4 L458.4 178.2 L460.4 179.0 L462.4 179.8 L464.4 180.5 L466.4 181.3 L468.4 182.1 L470.4 182.8 L472.4 183.6 L474.4 184.3 L476.4 185.1 L478.4 185.8 L480.4 186.5 L482.4 187.3 L484.4 188.0 L486.4 188.7 L488.4 189.4 L490.4 190.1 L492.4 190.8 L494.4 191.5 L496.4 192.1 L498.4 192.8 L499.0 193.0" stroke="#00ff00" stroke-width="1.1" stroke-dasharray="7 5.8"/>
<path d="M76.4 48.0 L78.4 48.0 L80.4 48.0 L82.4 48.0 L84.4 48.0 L86.4 48.0 L88.4 48.1 L90.4 48.1 L92.4 48.2 L94.4 48.2 L96.4 48.3 L98.4 48.3 L100.4 48.4 L102.4 48.5 L104.4 48.6 L106.4 48.7 L108.4 48.8 L110.4 48.9 L112.4 49.0 L114.4 49.1 L116.4 49.2 L118.4 49.4 L120.4 49.5 L122.4 49.7 L124.4 49.8 L126.4 50.0 L128.4 50.2 L130.4 50.4 L132.4 50.6 L134.4 50.8 L136.4 51.0 L138.4 51.3 L140.4 51.5 L142.4 51.8 L144.4 52.0 L146.4 52.3 L148.4 52.6 L150.4 52.9 L152.4 53.2 L154.4 53.5 L156.4 53.9 L158.4 54.2 L160.4 54.5 L162.4 54.9 L164.4 55.3 L166.4 55.7 L168.4 56.1 L170.4 56.5 L172.4 56.9 L174.4 57.3 L176.4 57.8 L178.4 58.2 L180.4 58.7 L182.4 59.1 L184.4 59.6 L186.4 60.1 L188.4 60.6 L190.4 61.1 L192.4 61.6 L194.4 62.1 L196.4 62.6 L198.4 63.1 L200.4 63.7 L202.4 64.2 L204.4 64.8 L206.4 65.3 L208.4 65.9 L210.4 66.4 L212.4 67.0 L214.4 67.5 L216.4 68.1 L218.4 68.7 L220.4 69.3 L222.4 69.8 L224.4 70.4 L226.4 71.0 L228.4 71.6 L230.4 72.2 L232.4 72.8 L234.4 73.3 L236.4 73.9 L238.4 74.5 L240.4 75.1 L242.4 75.7 L244.4 76.3 L246.4 76.9 L248.4 77.5 L250.4 78.1 L252.4 78.7 L254.4 79.3 L256.4 79.9 L258.4 80.4 L260.4 81.0 L262.4 81.6 L264.4 82.2 L266.4 82.8 L268.4 83.4 L270.4 84.0 L272.4 84.7 L274.4 85.3 L276.4 85.9 L278.4 86.5 L280.4 87.1 L282.4 87.7 L284.4 88.4 L286.4 89.0 L288.4 89.6 L290.4 90.2 L292.4 90.9 L294.4 91.5 L296.4 92.2 L298.4 92.8 L300.4 93.5 L302.4 94.1 L304.4 94.8 L306.4 95.5 L308.4 96.2 L310.4 96.8 L312.4 97.5 L314.4 98.2 L316.4 98.9 L318.4 99.6 L320.4 100.3 L322.4 101.1 L324.4 101.8 L326.4 102.5 L328.4 103.3 L330.4 104.0 L332.4 104.8 L334.4 105.5 L336.4 106.3 L338.4 107.0 L340.4 107.8 L342.4 108.6 L344.4 109.4 L346.4 110.2 L348.4 111.0 L350.4 111.7 L352.4 112.5 L354.4 113.3 L356.4 114.1 L358.4 114.9 L360.4 115.7 L362.4 116.5 L364.4 117.3 L366.4 118.1 L368.4 118.9 L370.4 119.8 L372.4 120.6 L374.4 121.4 L376.4 122.2 L378.4 123.0 L380.4 123.8 L382.4 124.6 L384.4 125.4 L386.4 126.1 L388.4 126.9 L390.4 127.7 L392.4 128.5 L394.4 129.3 L396.4 130.1 L398.4 130.8 L400.4 131.6 L402.4 132.4 L404.4 133.1 L406.4 133.9 L408.4 134.6 L410.4 135.4 L412.4 136.1 L414.4 136.8 L416.4 137.6 L418.4 138.3 L420.4 139.0 L422.4 139.7 L424.4 140.4 L426.4 141.1 L428.4 141.8 L430.4 142.5 L432.4 143.3 L434.4 144.0 L436.4 144.7 L438.4 145.4 L440.4 146.1 L442.4 146.8 L444.4 147.5 L446.4 148.2 L448.4 148.9 L450.4 149.6 L452.4 150.3 L454.4 151.1 L456.4 151.8 L458.4 152.5 L460.4 153.3 L462.4 154.0 L464.4 154.7 L466.4 155.5 L468.4 156.2 L470.4 157.0 L472.4 157.8 L474.4 158.6 L476.4 159.3 L478.4 160.1 L480.4 160.9 L482.4 161.8 L484.4 162.6 L486.4 163.4 L488.4 164.2 L489.0 164.5" stroke="#800080" stroke-width="1.1" stroke-dasharray="7 5.8"/>
</g>
<line x1="66.5" y1="164.8" x2="579.5" y2="164.8" stroke="#808080" stroke-width="1.25" stroke-opacity="0.92"/>
<line x1="65.75" y1="35.9" x2="580.0" y2="35.9" stroke="#b0b0b0" stroke-width="1.8"/>
<line x1="66.3" y1="36.0" x2="66.3" y2="353.9" stroke="#a6a6a6" stroke-width="1.6"/>
<line x1="579.5" y1="36.0" x2="579.5" y2="353.9" stroke="#777777" stroke-width="1.1"/>
<line x1="65.75" y1="353.4" x2="580.0" y2="353.4" stroke="#777777" stroke-width="1.1"/>
<path d="M76.5 354 V347.4 M76.5 36 V42.0 M101.5 354 V349.4 M101.5 36 V40.0 M127.5 354 V349.4 M127.5 36 V40.0 M152.5 354 V349.4 M152.5 36 V40.0 M177.5 354 V347.4 M177.5 36 V42.0 M203.5 354 V349.4 M203.5 36 V40.0 M228.5 354 V349.4 M228.5 36 V40.0 M254.5 354 V349.4 M254.5 36 V40.0 M279.5 354 V347.4 M279.5 36 V42.0 M304.5 354 V349.4 M304.5 36 V40.0 M330.5 354 V349.4 M330.5 36 V40.0 M355.5 354 V349.4 M355.5 36 V40.0 M381.5 354 V347.4 M381.5 36 V42.0 M406.5 354 V349.4 M406.5 36 V40.0 M431.5 354 V349.4 M431.5 36 V40.0 M457.5 354 V349.4 M457.5 36 V40.0 M482.5 354 V347.4 M482.5 36 V42.0 M508.5 354 V349.4 M508.5 36 V40.0 M533.5 354 V349.4 M533.5 36 V40.0 M558.5 354 V349.4 M558.5 36 V40.0 M66 352.5 H70.0 M580 352.5 H575.6 M66 337.5 H70.0 M580 337.5 H575.6 M66 322.5 H70.0 M580 322.5 H575.6 M66 307.5 H72.0 M580 307.5 H573.6 M66 292.5 H70.0 M580 292.5 H575.6 M66 277.5 H70.0 M580 277.5 H575.6 M66 262.5 H70.0 M580 262.5 H575.6 M66 247.5 H70.0 M580 247.5 H575.6 M66 232.5 H72.0 M580 232.5 H573.6 M66 217.5 H70.0 M580 217.5 H575.6 M66 202.5 H70.0 M580 202.5 H575.6 M66 187.5 H70.0 M580 187.5 H575.6 M66 172.5 H70.0 M580 172.5 H575.6 M66 157.5 H72.0 M580 157.5 H573.6 M66 142.5 H70.0 M580 142.5 H575.6 M66 127.5 H70.0 M580 127.5 H575.6 M66 112.5 H70.0 M580 112.5 H575.6 M66 97.5 H70.0 M580 97.5 H575.6 M66 82.5 H72.0 M580 82.5 H573.6 M66 67.5 H70.0 M580 67.5 H575.6 M66 52.5 H70.0 M580 52.5 H575.6 M66 37.5 H70.0 M580 37.5 H575.6" stroke="#767676" stroke-width="1" fill="none" shape-rendering="crispEdges"/>
<g font-size="14.8px" text-anchor="middle">
<text x="76.0" y="371.4">0</text>
<text x="177.6" y="371.4">2</text>
<text x="279.2" y="371.4">4</text>
<text x="380.8" y="371.4">6</text>
<text x="482.4" y="371.4">8</text>
</g>
<g font-size="14.8px" text-anchor="end">
<text x="60.7" y="87.2">0.5</text>
<text x="60.7" y="162.2">0.4</text>
<text x="60.7" y="237.2">0.3</text>
<text x="60.7" y="312.2">0.2</text>
</g>
<text x="322.5" y="407.6" font-size="25.5px" text-anchor="middle">r</text>
<g transform="translate(26,214) rotate(-90)"><g fill="none" stroke="#000" stroke-linecap="round" stroke-linejoin="round"><path d="M10.3 -15.7 Q9.5 -8 10.5 -0.8" stroke-width="2.4"/><path d="M10.3 -16.1 C7.5 -16.6 5.6 -16.2 4.2 -15.1 C2.2 -13.6 0.2 -12.4 0.6 -10.9 C0.9 -9.6 1.6 -9.2 2.2 -9.0" stroke-width="1.25"/><path d="M10.6 -0.4 Q15.6 -7.2 20.0 -14.8" stroke-width="1.25"/></g><circle cx="2.2" cy="-9.5" r="1.15" fill="#000"/><path d="M21.4 -16.3 L20.3 -12.9 L17.2 -15.9 Z" fill="#000"/><text x="21.5" y="3.5" font-size="16px" font-style="italic">r</text><text x="29.5" y="-10.3" font-size="16.5px">2</text></g>
<text x="128.0" y="20.8" font-size="22.5px" font-style="italic">δ</text>
<text x="138.6" y="24.6" font-size="15.5px">1</text>
<text x="148.2" y="22.6" font-size="22.5px">=</text>
<text x="162.6" y="20.8" font-size="22.5px">5,</text>
<text x="184.5" y="20.8" font-size="22.5px" font-style="italic">δ</text>
<text x="195.4" y="24.6" font-size="15.5px">2</text>
<text x="205.0" y="22.6" font-size="22.5px">=</text>
<text x="218.7" y="20.8" font-size="22.5px">0.5</text>
<text x="252.5" y="20.8" font-size="22.5px">(solid)</text>
<text x="311.7" y="20.8" font-size="22.5px">,</text>
<text x="321.5" y="20.8" font-size="22.5px" font-style="italic">δ</text>
<text x="332.3" y="24.6" font-size="15.5px">1</text>
<text x="342.5" y="22.6" font-size="22.5px">=</text>
<text x="355.4" y="20.8" font-size="22.5px">5,</text>
<text x="378.3" y="20.8" font-size="22.5px" font-style="italic">δ</text>
<text x="389.4" y="24.6" font-size="15.5px">2</text>
<text x="398.2" y="22.6" font-size="22.5px">=</text>
<text x="412.6" y="20.8" font-size="22.5px">8.5</text>
<text x="445.4" y="20.8" font-size="22.5px">(dotted)</text>
</svg></body></html>
